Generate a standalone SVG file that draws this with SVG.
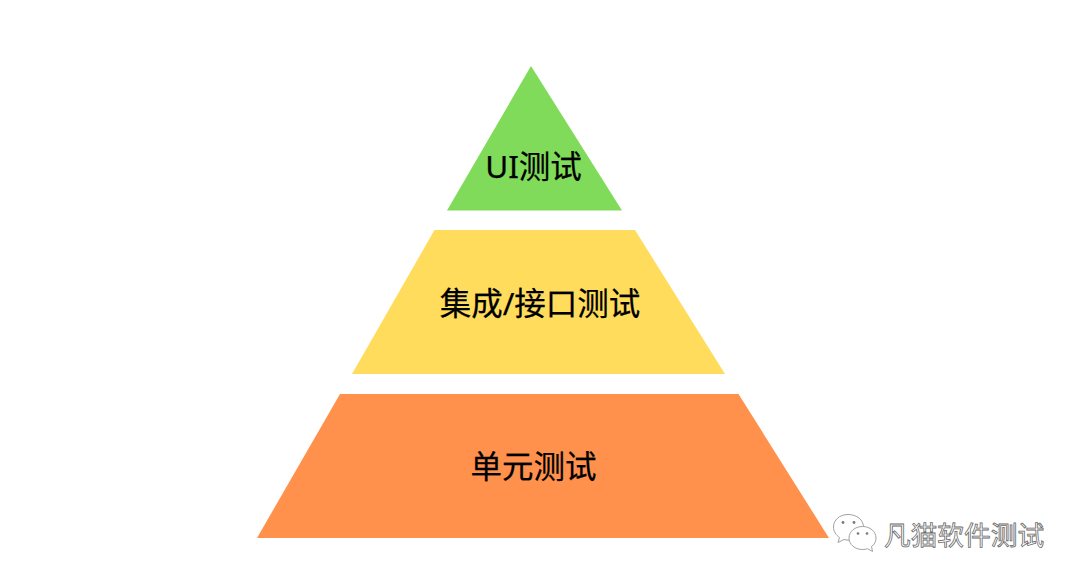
<svg xmlns="http://www.w3.org/2000/svg" width="1080" height="583" viewBox="0 0 1080 583">
<style>
.l{font-family:"Noto Sans","Noto Sans CJK SC",sans-serif;font-size:31.5px;font-weight:400;fill:#000;stroke:#000;stroke-width:.25px;text-anchor:middle}
.w{font-family:"Noto Sans CJK SC",sans-serif;font-size:26.7px;fill:#fff;stroke:#666;stroke-width:.8px}
.b{fill:#fff;stroke:#a0a0a0;stroke-width:1}
.d{fill:#777}
</style>
<rect width="1080" height="583" fill="#fff"/>
<g id="ui"><polygon points="531,66 622,210.500 447,210.500" fill="#80db5a"/><text class="l" x="533.500" y="178">UI测试</text></g>
<g id="integration"><polygon points="434.500,230 635,230 725,374 352,374" fill="#ffdc5c"/><text class="l" x="540" y="315">集成/接口测试</text></g>
<g id="unit"><polygon points="340,394 738.500,394 829,538 257,538" fill="#ff914d"/><text class="l" x="533.500" y="478">单元测试</text></g>
<g id="watermark" opacity=".98">
<path class="b" d="M848 514.500C839.500 514.500 833.500 520 833.500 527C833.500 531.500 836 535 839.500 537.500L838 542.500L844 539.500C846 540 848 540.300 850 540.300C858 540.300 863.500 534.500 863.500 527C863.500 520 857 514.500 848 514.500Z"/>
<path class="b" d="M862.500 526.500C855 526.500 849 531.500 849 538C849 544.500 855 549.500 862.500 549.500C864.500 549.500 866 549.200 867.500 548.700L872.500 551.500L871.500 546.500C874.500 544.500 876 541.500 876 538C876 531.500 870 526.500 862.500 526.500Z"/>
<circle class="d" cx="843" cy="522.500" r="1.400"/><circle class="d" cx="854" cy="522.500" r="1.400"/>
<circle class="d" cx="858" cy="533.500" r="1.300"/><circle class="d" cx="867" cy="533.500" r="1.300"/>
<text class="w" x="884" y="545">凡猫软件测试</text>
</g>
</svg>
